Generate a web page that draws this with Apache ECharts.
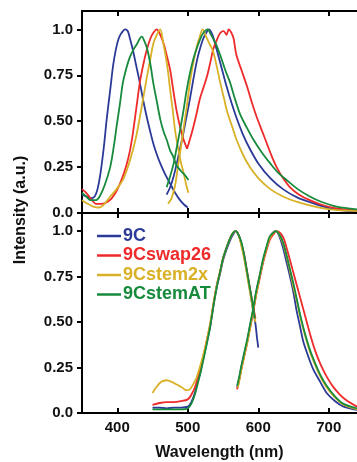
<!DOCTYPE html>
<html><head><meta charset="utf-8">
<script src="https://cdn.jsdelivr.net/npm/echarts@6/dist/echarts.min.js"></script>
<style>html,body{margin:0;padding:0;background:#fff}#c{width:357px;height:462px}</style>
</head><body><div id="c"></div>
<script>
// ---- data ----
const seriesNames = ['9C','9Cswap26','9Cstem2x','9CstemAT'];
const xTicks = [400,500,600,700];
const yTicks = [0,0.25,0.5,0.75,1.0];
const yTickLabels = ['0.0','0.25','0.50','0.75','1.0'];

// top panel: excitation (left) and emission (right) spectra, [nm, intensity]
const top_9C_ex = [[350,0.10],[356,0.09],[362,0.08],[368,0.09],[372,0.13],[376,0.21],[381,0.36],[385,0.51],[390,0.67],[394,0.80],[398,0.89],[402,0.95],[406,0.98],[411,1.0],[415,0.99],[418,0.95],[422,0.89],[427,0.80],[432,0.71],[437,0.61],[442,0.52],[447,0.44],[451,0.38],[456,0.32],[461,0.27],[468,0.21],[475,0.16],[482,0.11],[489,0.07],[495,0.045],[500,0.03]];
const top_9Cswap26_ex = [[350,0.13],[356,0.11],[362,0.08],[370,0.05],[378,0.05],[386,0.06],[392,0.08],[399,0.12],[406,0.18],[413,0.26],[418,0.34],[422,0.43],[427,0.57],[432,0.71],[437,0.81],[442,0.89],[447,0.95],[451,0.98],[456,1.0],[461,0.97],[466,0.92],[470,0.86],[475,0.78],[479,0.68],[484,0.56],[489,0.47],[494,0.40],[499,0.35]];
const top_9Cstem2x_ex = [[350,0.07],[358,0.05],[366,0.035],[374,0.03],[382,0.05],[390,0.09],[399,0.13],[408,0.18],[415,0.25],[422,0.34],[427,0.42],[432,0.52],[437,0.63],[442,0.74],[447,0.84],[451,0.92],[456,0.97],[461,1.0],[465,0.93],[468,0.87],[472,0.77],[475,0.67],[479,0.55],[482,0.45],[486,0.36],[490,0.28],[494,0.22],[498,0.15],[501,0.11]];
const top_9CstemAT_ex = [[350,0.11],[356,0.09],[362,0.07],[370,0.07],[375,0.09],[382,0.15],[390,0.25],[395,0.36],[399,0.47],[404,0.60],[408,0.71],[413,0.79],[418,0.85],[423,0.89],[428,0.92],[432,0.95],[435,0.96],[438,0.94],[442,0.90],[447,0.81],[451,0.71],[456,0.61],[461,0.51],[466,0.44],[470,0.40],[475,0.34],[479,0.31],[484,0.26],[490,0.23],[495,0.21],[501,0.18]];

const top_9C_em = [[470,0.10],[475,0.14],[480,0.20],[485,0.28],[489,0.35],[494,0.44],[498,0.52],[503,0.62],[508,0.73],[513,0.83],[517,0.89],[522,0.95],[526,0.98],[530,1.0],[535,0.97],[541,0.89],[548,0.79],[555,0.69],[562,0.60],[569,0.52],[578,0.43],[588,0.35],[600,0.27],[617,0.19],[635,0.13],[655,0.085],[680,0.05],[702,0.025],[720,0.015],[740,0.01]];
const top_9Cswap26_em = [[499,0.35],[503,0.40],[508,0.47],[513,0.55],[517,0.62],[522,0.68],[527,0.74],[532,0.82],[536,0.89],[541,0.94],[546,0.98],[551,0.99],[555,0.97],[558,1.0],[562,0.98],[565,0.95],[569,0.86],[576,0.78],[584,0.69],[591,0.60],[598,0.52],[605,0.45],[612,0.38],[619,0.31],[626,0.25],[635,0.19],[645,0.14],[658,0.10],[673,0.07],[690,0.045],[711,0.025],[740,0.015]];
const top_9Cstem2x_em = [[472,0.05],[477,0.08],[482,0.15],[486,0.25],[490,0.35],[494,0.46],[499,0.59],[503,0.71],[508,0.82],[513,0.91],[517,0.96],[521,1.0],[526,0.96],[531,0.92],[536,0.88],[541,0.80],[546,0.71],[551,0.63],[556,0.55],[563,0.47],[569,0.40],[578,0.32],[588,0.25],[600,0.19],[617,0.13],[635,0.09],[655,0.06],[680,0.035],[702,0.02],[740,0.01]];
const top_9CstemAT_em = [[470,0.14],[475,0.20],[480,0.27],[484,0.35],[489,0.45],[494,0.56],[498,0.66],[503,0.76],[508,0.84],[513,0.90],[518,0.95],[522,0.98],[528,1.0],[533,0.97],[540,0.92],[546,0.86],[553,0.78],[560,0.71],[567,0.62],[574,0.54],[583,0.47],[593,0.40],[605,0.33],[617,0.27],[628,0.22],[640,0.18],[656,0.13],[673,0.09],[690,0.06],[711,0.035],[740,0.02]];

// bottom panel
const bot_9C_ex = [[450,0.03],[460,0.03],[470,0.025],[480,0.03],[490,0.03],[500,0.035],[505,0.06],[510,0.11],[514,0.17],[518,0.23],[522,0.30],[527,0.39],[532,0.48],[536,0.58],[541,0.69],[546,0.77],[550,0.84],[555,0.90],[560,0.95],[564,0.98],[568,1.0],[572,0.98],[576,0.93],[580,0.86],[584,0.77],[588,0.68],[592,0.58],[596,0.49],[598,0.42],[600,0.36]];
const bot_9Cswap26_ex = [[450,0.045],[460,0.055],[470,0.06],[480,0.06],[490,0.065],[500,0.075],[505,0.10],[510,0.14],[514,0.19],[518,0.25],[522,0.31],[527,0.40],[532,0.49],[536,0.59],[541,0.70],[546,0.78],[550,0.85],[555,0.91],[560,0.96],[564,0.99],[568,1.0],[572,0.98],[576,0.93],[580,0.87],[584,0.78],[588,0.69],[592,0.60],[596,0.52]];
const bot_9Cstem2x_ex = [[450,0.11],[455,0.14],[462,0.17],[470,0.18],[478,0.17],[485,0.155],[492,0.14],[498,0.125],[503,0.13],[508,0.16],[512,0.19],[517,0.25],[522,0.32],[527,0.40],[532,0.50],[536,0.59],[541,0.70],[546,0.78],[550,0.85],[555,0.91],[560,0.96],[564,0.99],[567,1.0],[572,0.98],[576,0.92],[580,0.85],[584,0.76],[588,0.67],[592,0.58],[596,0.50]];
const bot_9CstemAT_ex = [[450,0.02],[460,0.02],[470,0.02],[480,0.02],[490,0.02],[500,0.025],[505,0.05],[510,0.10],[514,0.16],[518,0.22],[522,0.29],[527,0.38],[532,0.48],[536,0.58],[541,0.69],[546,0.78],[550,0.85],[555,0.91],[560,0.96],[564,0.99],[568,1.0],[572,0.98],[576,0.94],[580,0.87],[584,0.78],[588,0.69],[592,0.60],[595,0.52]];

const bot_9C_em = [[570,0.14],[573,0.19],[576,0.25],[580,0.32],[584,0.39],[588,0.47],[593,0.57],[597,0.66],[602,0.75],[607,0.84],[612,0.91],[616,0.96],[620,0.99],[625,1.0],[630,0.97],[635,0.91],[640,0.83],[645,0.75],[650,0.66],[654,0.57],[659,0.48],[664,0.39],[671,0.31],[678,0.24],[688,0.17],[697,0.11],[709,0.065],[721,0.035],[740,0.017]];
const bot_9Cswap26_em = [[570,0.13],[573,0.18],[576,0.24],[580,0.31],[584,0.38],[588,0.46],[593,0.56],[597,0.65],[602,0.74],[607,0.83],[612,0.90],[616,0.95],[621,0.98],[626,1.0],[631,0.99],[636,0.96],[640,0.91],[645,0.84],[652,0.74],[659,0.64],[666,0.54],[673,0.44],[680,0.35],[688,0.27],[697,0.20],[706,0.145],[716,0.10],[725,0.07],[740,0.035]];
const bot_9Cstem2x_em = [[571,0.14],[574,0.20],[577,0.26],[581,0.33],[585,0.40],[589,0.48],[593,0.57],[598,0.67],[602,0.75],[607,0.84],[612,0.91],[616,0.96],[621,0.99],[626,1.0],[631,0.97],[636,0.92],[640,0.86],[645,0.78],[650,0.69],[655,0.61],[660,0.52],[666,0.43],[673,0.34],[680,0.27],[688,0.20],[697,0.14],[709,0.085],[721,0.045],[740,0.02]];
const bot_9CstemAT_em = [[570,0.15],[573,0.20],[576,0.26],[580,0.33],[584,0.40],[588,0.48],[593,0.58],[597,0.67],[602,0.76],[607,0.85],[612,0.92],[616,0.97],[621,0.99],[625,1.0],[630,0.98],[635,0.94],[640,0.87],[645,0.79],[650,0.71],[655,0.62],[660,0.53],[666,0.44],[673,0.35],[680,0.28],[688,0.21],[697,0.15],[709,0.09],[721,0.05],[740,0.025]];

// ---- styling ----
const colors = ['#2b3a97','#ee2a2a','#d8b126','#178a3c'];
const FONT = '"Liberation Sans", Arial, Helvetica, sans-serif';

const curves = [
  [top_9C_ex, top_9C_em, bot_9C_ex, bot_9C_em],
  [top_9Cswap26_ex, top_9Cswap26_em, bot_9Cswap26_ex, bot_9Cswap26_em],
  [top_9Cstem2x_ex, top_9Cstem2x_em, bot_9Cstem2x_ex, bot_9Cstem2x_em],
  [top_9CstemAT_ex, top_9CstemAT_em, bot_9CstemAT_ex, bot_9CstemAT_em]
];

const series = [];
curves.forEach((set, i) => {
  set.forEach((d, j) => {
    const top = j < 2;
    series.push({
      name: seriesNames[i], type: 'line', data: d,
      xAxisIndex: top ? 0 : 2, yAxisIndex: top ? 0 : 1,
      showSymbol: false, smooth: 0.3, silent: true, animation: false,
      lineStyle: { color: colors[i], width: 1.8 }, itemStyle: { color: colors[i] },
      z: 2 + i
    });
  });
});

const axisLine = { show: true, onZero: false, lineStyle: { color: '#000', width: 2 } };
function xAxis(grid, pos, labels) {
  return {
    type: 'value', gridIndex: grid, position: pos, min: 350, max: 740,
    axisLine: axisLine,
    axisTick: { show: true, inside: true, length: 5, lineStyle: { color: '#000', width: 2 }, customValues: xTicks },
    axisLabel: { show: labels, customValues: xTicks, margin: 7, color: '#111', fontSize: 15, fontWeight: 'bold', fontFamily: FONT },
    splitLine: { show: false },
    name: labels ? 'Wavelength (nm)' : '', nameLocation: 'middle', nameGap: 32,
    nameTextStyle: { color: '#111', fontSize: 16, fontWeight: 'bold', fontFamily: FONT }
  };
}
function yAxis(grid) {
  return {
    type: 'value', gridIndex: grid, min: 0, max: 1.1,
    axisLine: axisLine,
    axisTick: { show: true, inside: false, length: 5, lineStyle: { color: '#000', width: 2 }, customValues: yTicks },
    axisLabel: { customValues: yTicks, margin: 9, color: '#111', fontSize: 15, fontWeight: 'bold', fontFamily: FONT,
      formatter: v => yTickLabels[yTicks.indexOf(v)] ?? '' },
    splitLine: { show: false }
  };
}

const chart = echarts.init(document.getElementById('c'), null, { renderer: 'canvas' });
chart.setOption({
  animation: false,
  backgroundColor: '#fff',
  grid: [
    { left: 82, right: 0, top: 11, height: 202 },
    { left: 82, right: 0, top: 213, height: 200 }
  ],
  xAxis: [xAxis(0, 'bottom', false), xAxis(0, 'top', false), xAxis(1, 'bottom', true), xAxis(1, 'top', false)],
  yAxis: [yAxis(0), yAxis(1)],
  legend: {
    orient: 'vertical', left: 92, top: 222, itemGap: 1.5, itemWidth: 24, itemHeight: 2.5,
    icon: 'rect', selectedMode: false,
    textStyle: { fontSize: 18, fontWeight: 'bold', fontFamily: FONT, lineHeight: 18, padding: [0, 0, 0, -3] },
    data: seriesNames.map((n, i) => ({ name: n, textStyle: { color: colors[i] } }))
  },
  graphic: [{
    type: 'text', x: 21, y: 210, rotation: Math.PI / 2,
    style: { text: 'Intensity (a.u.)', align: 'center', verticalAlign: 'middle', fill: '#111',
      font: 'bold 16px ' + FONT }
  }],
  series: series
});
</script></body></html>
